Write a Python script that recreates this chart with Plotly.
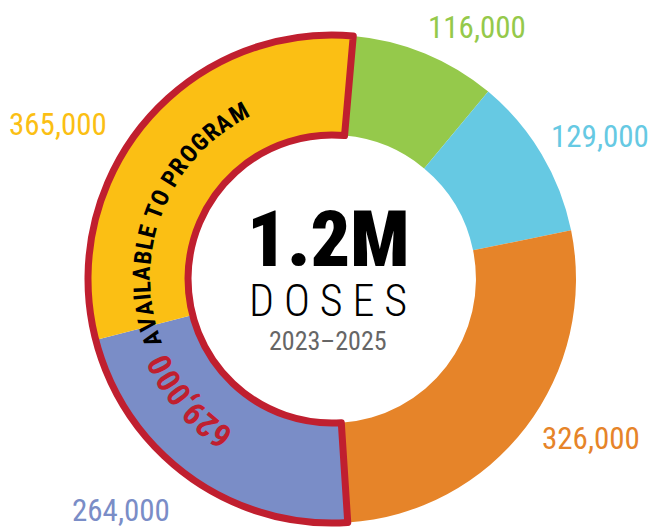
import math
import plotly.graph_objects as go

# ---- data ----
segments = ["Segment A", "Segment B", "Segment C", "Segment D", "Segment E"]
doses = [116000, 129000, 326000, 264000, 365000]
seg_colors = ["#95c94b", "#66c9e3", "#e68429", "#7a8dc7", "#fbbf14"]
value_labels = ["116,000", "129,000", "326,000", "264,000", "365,000"]
program_groups = ["Other", "Available to program"]
program_doses = [doses[0] + doses[1] + doses[2], doses[3] + doses[4]]
program_label = "629,000"
center_big = "1.2M"
center_mid = "D O S E S"
center_small = "2023–2025"
arc_text = "AVAILABLE TO PROGRAM"

W, H = 651, 529
CX, CY, R = 332, 279, 244
HOLE = 0.59
ROT = 5
RED = "#c01f2f"
NARROW = "Roboto Condensed, Liberation Sans Narrow, Roboto, sans-serif"

dom_x = [(CX - R) / W, (CX + R) / W]
dom_y = [(H - CY - R) / H, (H - CY + R) / H]

fig = go.Figure()
fig.add_trace(go.Pie(
    labels=segments, values=doses, sort=False, direction="clockwise",
    rotation=ROT, hole=HOLE, textinfo="none", hoverinfo="skip",
    marker=dict(colors=seg_colors, line=dict(width=0)),
    domain=dict(x=dom_x, y=dom_y), showlegend=False,
))
fig.add_trace(go.Pie(
    labels=program_groups, values=program_doses, sort=False, direction="clockwise",
    rotation=ROT, hole=HOLE, textinfo="none", hoverinfo="skip",
    marker=dict(colors=["rgba(0,0,0,0)", "rgba(0,0,0,0)"],
                line=dict(width=7, color=["rgba(0,0,0,0)", RED])),
    domain=dict(x=dom_x, y=dom_y), showlegend=False,
))

def px(x):
    return x / W

def py(y):
    return 1 - y / H

ann = []
# outside value labels
label_pos = [(477, 27), (600, 136), (591, 438), (121, 510), (58, 124)]
for txt, col, (x, y) in zip(value_labels, seg_colors, label_pos):
    ann.append(dict(x=px(x), y=py(y), xref="paper", yref="paper", text=txt,
                    showarrow=False, xanchor="center", yanchor="middle",
                    font=dict(family=NARROW, size=31, color=col)))

# center text
ann.append(dict(x=px(328), y=py(239), xref="paper", yref="paper", text=center_big,
                showarrow=False, xanchor="center", yanchor="middle",
                font=dict(family=NARROW, size=78, color="#000000", weight=900)))
ann.append(dict(x=px(328), y=py(301), xref="paper", yref="paper", text=center_mid,
                showarrow=False, xanchor="center", yanchor="middle",
                font=dict(family=NARROW, size=44, color="#000000", weight=300)))
ann.append(dict(x=px(328), y=py(341), xref="paper", yref="paper", text=center_small,
                showarrow=False, xanchor="center", yanchor="middle",
                font=dict(family=NARROW, size=26, color="#666666")))

# curved text helpers
adv = {"A": .66, "V": .64, "I": .28, "L": .54, "B": .63, "E": .57, " ": .25,
       "T": .62, "O": .68, "P": .63, "R": .63, "G": .68, "M": .87,
       "0": .56, "1": .56, "2": .56, "3": .56, "4": .56, "5": .56, "6": .56,
       "7": .56, "8": .56, "9": .56, ",": .22}

def arc(text, a_first, a_last, radius, size, color):
    widths = [adv.get(c, .6) for c in text]
    centers = []
    acc = 0
    for w in widths:
        centers.append(acc + w / 2)
        acc += w
    c0, c1 = centers[0], centers[-1]
    for ch, c in zip(text, centers):
        if ch == " ":
            continue
        th = a_first + (a_last - a_first) * (c - c0) / (c1 - c0)
        t = math.radians(th)
        x = CX + radius * math.sin(t)
        y = CY - radius * math.cos(t)
        ang = th if th <= 180 else th - 360
        ann.append(dict(x=px(x), y=py(y), xref="paper", yref="paper", text=ch,
                        showarrow=False, xanchor="center", yanchor="middle", textangle=ang,
                        font=dict(family=NARROW, size=size, color=color, weight=700)))

arc(arc_text, 251.7, 330.8, 190, 24, "#000000")
arc(program_label, 215.3, 243.5, 192, 33, RED)

fig.update_layout(
    width=W, height=H, margin=dict(l=0, r=0, t=0, b=0),
    paper_bgcolor="white", plot_bgcolor="white",
    annotations=ann, showlegend=False,
)
fig.write_html("out.html", config={"displayModeBar": False},
               post_script="document.body.style.margin='0';document.body.style.padding='0';")
